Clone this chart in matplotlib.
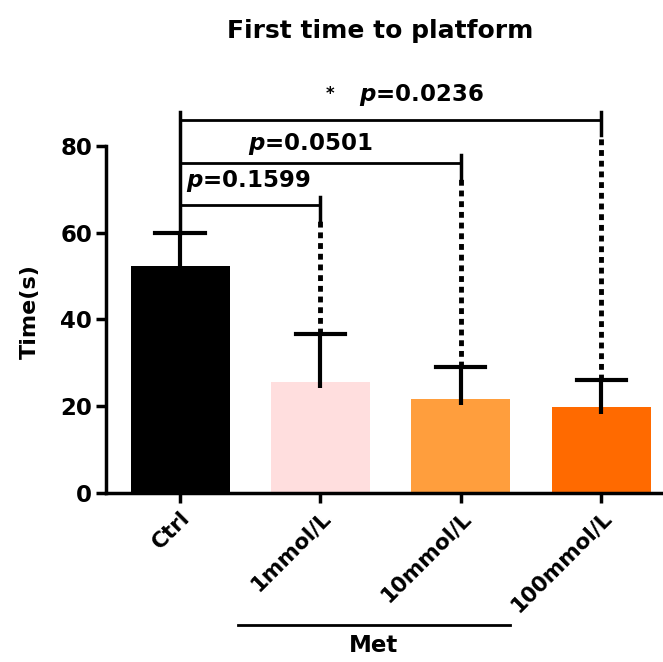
import matplotlib
matplotlib.use("Agg")
import matplotlib.pyplot as plt

plt.rcParams['font.family'] = ['DejaVu Sans']
plt.rcParams['font.weight'] = 'bold'
plt.rcParams['mathtext.fontset'] = 'custom'
plt.rcParams['mathtext.it'] = 'DejaVu Sans:italic:bold'
plt.rcParams['mathtext.rm'] = 'DejaVu Sans:bold'

# data
groups = ["Ctrl", "1mmol/L", "10mmol/L", "100mmol/L"]
means = [52.3, 25.6, 21.7, 19.8]
sds = [7.7, 11.0, 7.3, 6.2]
colors = ["#000000", "#FFDEDE", "#FF9E3D", "#FF6A00"]

# comparisons vs Ctrl: (target index, bracket height, label, label x, label y)
comparisons = [(1, 66.4, "$p$=0.1599", 0.04, 71.9),
               (2, 76.0, "$p$=0.0501", 0.485, 80.4),
               (3, 86.0, "$p$=0.0236", 1.276, 91.7)]

fig = plt.figure(figsize=(6.63, 6.62), dpi=100)
ax = fig.add_axes([0.160, 0.2553, 0.84, 0.6556])

x = list(range(len(groups)))
ax.bar(x, means, width=0.705, color=colors, zorder=2)

# upper-only error bars
cap = 0.175
for xi, m, s in zip(x, means, sds):
    ax.plot([xi, xi], [m - 1.5, m + s], color="black", lw=3, zorder=3, solid_capstyle='butt')
    ax.plot([xi - cap, xi + cap], [m + s, m + s], color="black", lw=3, zorder=3)

# Ctrl vertical line rising to the top bracket
top = max(c[1] for c in comparisons)
ax.plot([0, 0], [means[0] + sds[0], top + 1.8], color="black", lw=2.5, zorder=3)

for idx, h, lab, tx, ty in comparisons:
    ax.plot([0, idx], [h, h], color="black", lw=2, zorder=3)
    ax.plot([idx, idx], [h - 3.5, h + 1.8], color="black", lw=2.5, zorder=3)
    ax.plot([idx, idx], [means[idx] + sds[idx], h - 3.5], color="black", lw=3.5,
            linestyle=(0, (1.2, 1.0)), zorder=3)
    ax.text(tx, ty, lab, fontsize=16.5, ha='left', va='center')

# significance star for the 100mmol/L comparison
ax.text(1.07, 91.9, "*", fontsize=12, ha='center', va='center')

ax.set_xlim(-0.527, 3.44)
ax.set_ylim(0, 100)
ax.set_yticks([0, 20, 40, 60, 80])
ax.set_xticks(x)
ax.set_xticklabels(groups, rotation=45, ha='right', rotation_mode='anchor', fontsize=15.5)
ax.tick_params(axis='y', labelsize=16.5, width=2.5, length=7, pad=3)
ax.tick_params(axis='x', width=2.5, length=7)
for lab in ax.get_xticklabels():
    lab.set_fontweight('bold')

ax.spines['top'].set_visible(False)
ax.spines['right'].set_visible(False)
ax.spines['left'].set_linewidth(2.5)
ax.spines['bottom'].set_linewidth(2.5)
ax.spines['left'].set_bounds(0, 80)

ax.set_ylabel("Time(s)", fontsize=16, fontweight='bold')
ax.yaxis.set_label_coords(-0.1185, 0.417)

# group line for Met
ax.plot([0.41, 2.35], [-30.4, -30.4], color="black", lw=2, clip_on=False)
ax.text(1.38, -35.2, "Met", fontsize=16.5, ha='center', va='center')

fig.text(0.573, 0.942, "First time to platform", fontsize=18, fontweight='bold',
         ha='center', va='baseline')

fig.savefig("out.png", dpi=100)
